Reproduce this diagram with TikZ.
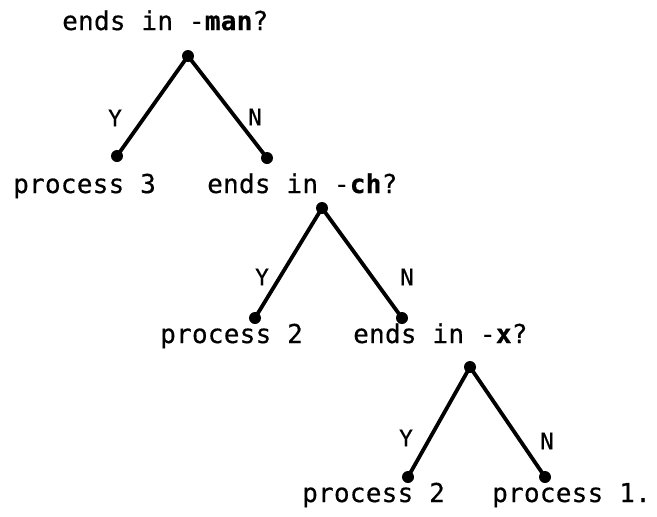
\documentclass[tikz,border=0pt]{standalone}
\usepackage{fontspec}
\newfontfamily\treefont[LetterSpace=1,FakeBold=0.5]{DejaVu Sans Mono}
\usetikzlibrary{positioning}

\begin{document}
\begin{tikzpicture}[
    x=1pt, y=-1pt, on grid,
    dot/.style={circle, fill, inner sep=0pt, minimum size=12pt},
    branch/.style={line width=3.8pt},
    txt/.style={anchor=base west, inner sep=0pt, font=\treefont\fontsize{26}{30}\selectfont},
    lbl/.style={inner sep=0pt, font=\treefont\fontsize{23}{27}\selectfont}
]
\useasboundingbox (0,0) rectangle (657,517);

% questions and outcomes
\node[txt] (man) at (62,30) {ends in -\textbf{man}?};
\node[txt] (proc3) at (13,193) {process 3};
\node[txt] (ch) at (207,193) {ends in -\textbf{ch}?};
\node[txt] (proc2a) at (160,343) {process 2};
\node[txt] (x) at (353,343) {ends in -\textbf{x}?};
\node[txt] (proc2b) at (302,502) {process 2};
\node[txt] (proc1) at (492,502) {process 1.};

% branch points
\node[dot] (q1) at (188,56) {};
\node[dot, below left=100pt and 71pt of q1] (y1) {};
\node[dot, below right=102pt and 79pt of q1] (n1) {};
\node[dot] (q2) at (322,208) {};
\node[dot, below left=110pt and 67pt of q2] (y2) {};
\node[dot, below right=110pt and 80pt of q2] (n2) {};
\node[dot] (q3) at (470,367) {};
\node[dot, below left=110pt and 62pt of q3] (y3) {};
\node[dot, below right=110pt and 75pt of q3] (n3) {};

\draw[branch] (q1.center) -- (y1.center);
\draw[branch] (q1.center) -- (n1.center);
\draw[branch] (q2.center) -- (y2.center);
\draw[branch] (q2.center) -- (n2.center);
\draw[branch] (q3.center) -- (y3.center);
\draw[branch] (q3.center) -- (n3.center);

% answers
\node[lbl] (y1l) at (115,118) {Y};
\node[lbl] (n1l) at (255,117) {N};
\node[lbl] (y2l) at (262,277) {Y};
\node[lbl] (n2l) at (407,277) {N};
\node[lbl] (y3l) at (406,438) {Y};
\node[lbl] (n3l) at (547,441) {N};
\end{tikzpicture}
\end{document}
